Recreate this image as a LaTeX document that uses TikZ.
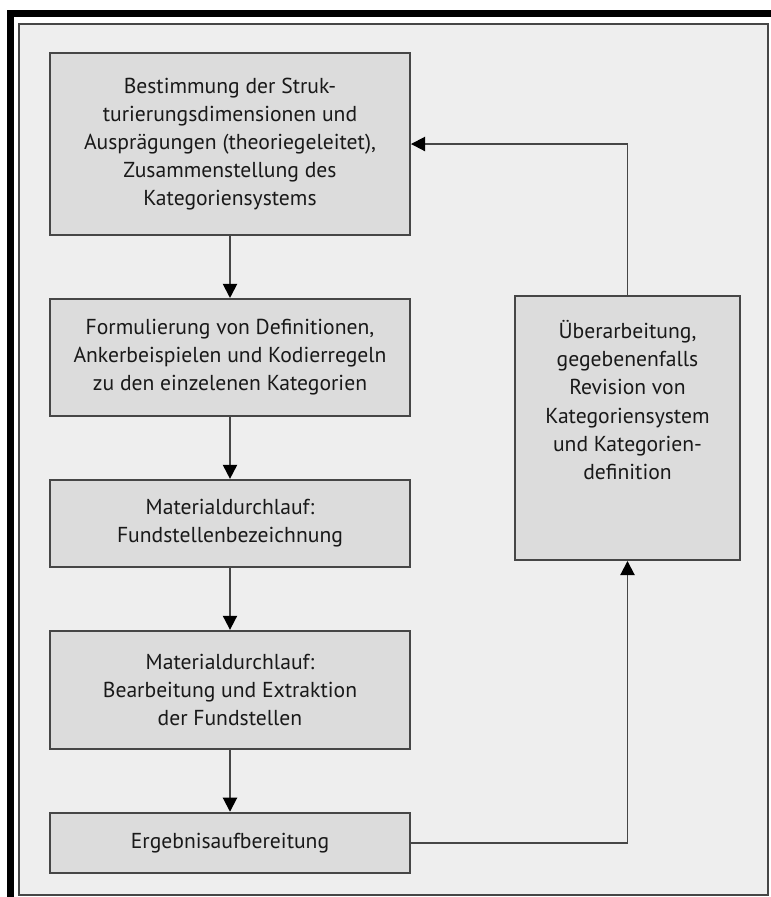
\documentclass[tikz,border=0pt]{standalone}
\usepackage{fontspec}
\setmainfont{PT Sans}
\usetikzlibrary{arrows.meta, positioning}

\definecolor{boxfill}{HTML}{DCDCDC}
\definecolor{framefill}{HTML}{EEEEEE}
\definecolor{lineclr}{HTML}{464646}

\begin{document}
\begin{tikzpicture}[
  node distance=1.24cm,
  stepbox/.style={rectangle, draw=lineclr, fill=boxfill, line width=1.1pt, minimum width=7.2cm, align=center, text=black!90, font=\fontsize{12.3}{16}\selectfont},
  arr/.style={-{Triangle[length=8pt, width=8pt, color=black]}, line width=1.1pt, draw=lineclr}
]
\useasboundingbox (0,0) rectangle (15.42,-17.94);
% frame
\draw[draw=lineclr, fill=framefill, line width=1.1pt] (0.38,-0.48) rectangle (15.36,-17.9);
\draw[line width=0.14cm] (0.21,-17.94) |- (15.42,-0.27);

\node[stepbox, minimum height=3.64cm] (bestimmung) at (4.6,-2.88) {Bestimmung der Struk-\\turierungsdimensionen und\\Ausprägungen (theoriegeleitet),\\Zusammenstellung des\\Kategoriensystems};
\node[stepbox, minimum height=2.34cm, below=of bestimmung] (formulierung) {Formulierung von Definitionen,\\Ankerbeispielen und Kodierregeln\\zu den einzelenen Kategorien};
\node[stepbox, minimum height=1.74cm, below=of formulierung] (fundstellen) {Materialdurchlauf:\\Fundstellenbezeichnung};
\node[stepbox, minimum height=2.36cm, below=of fundstellen] (extraktion) {Materialdurchlauf:\\Bearbeitung und Extraktion\\der Fundstellen};
\node[stepbox, minimum height=1.2cm, below=of extraktion] (ergebnis) {Ergebnisaufbereitung};
\node[stepbox, minimum width=4.5cm, minimum height=5.28cm] (revision) at (12.55,-8.56) {Überarbeitung,\\gegebenenfalls\\Revision von\\Kategoriensystem\\und Kategorien-\\definition\\[16pt]\mbox{}};

\draw[arr] (bestimmung) -- (formulierung);
\draw[arr] (formulierung) -- (fundstellen);
\draw[arr] (fundstellen) -- (extraktion);
\draw[arr] (extraktion) -- (ergebnis);
\draw[arr] (ergebnis.east) -| (revision.south);
\draw[arr] (revision.north) |- (bestimmung.east);
\end{tikzpicture}
\end{document}
